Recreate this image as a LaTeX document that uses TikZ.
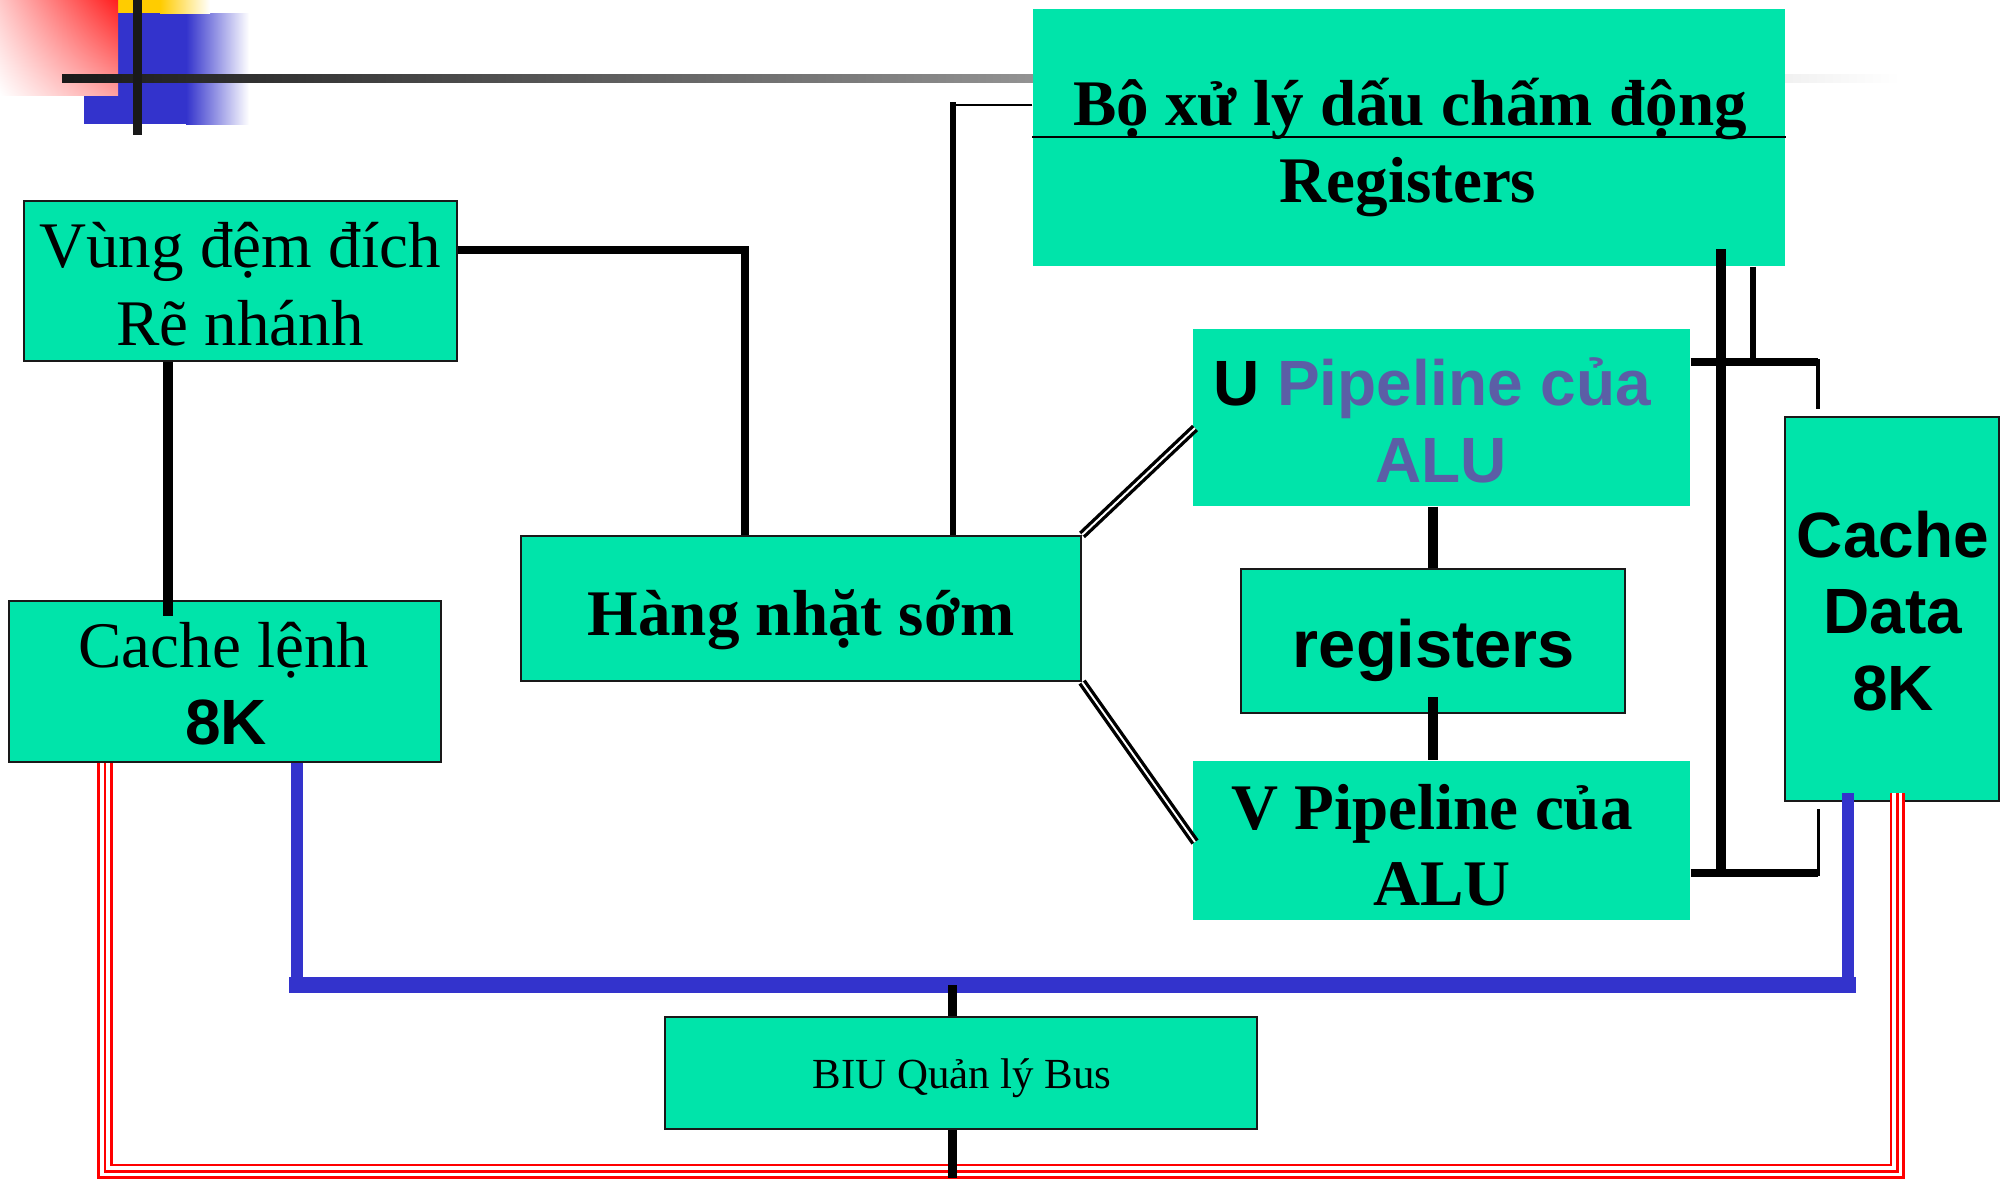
\documentclass[tikz,border=0pt]{standalone}
\usepackage{fontspec}
\setmainfont{Liberation Serif}
\newfontfamily\sansf{Liberation Sans}
\usetikzlibrary{fit,shadings}
\definecolor{boxg}{RGB}{0,228,170}
\definecolor{busblue}{RGB}{51,51,204}
\definecolor{pipe}{RGB}{91,94,166}
\definecolor{ink}{RGB}{25,25,25}
\definecolor{decored}{RGB}{255,30,30}
\definecolor{decoyel}{RGB}{255,204,0}
\definecolor{pinkA}{RGB}{255,200,200}
\definecolor{pinkB}{RGB}{255,160,160}
\definecolor{midgray}{RGB}{176,176,176}
\tikzset{
  box/.style={fill=boxg, draw=ink, line width=0.6pt, inner sep=0pt},
  plainbox/.style={fill=boxg, draw=none, inner sep=0pt},
  txt/.style={anchor=base, inner sep=0pt},
  serifL/.style={font=\fontsize{18.5}{22}\selectfont},
  serifB/.style={font=\fontsize{18.5}{22}\selectfont\bfseries},
  sansB/.style={font=\sansf\fontsize{18.2}{22}\selectfont\bfseries},
  wA/.style={draw=black, line width=2.85pt},
  wB/.style={draw=black, line width=2.3pt},
  wC/.style={draw=black, line width=1.7pt},
  wD/.style={draw=black, line width=0.7pt},
  wE/.style={draw=black, line width=3.1pt},
  wF/.style={draw=black, line width=1.4pt},
  wG/.style={draw=black, line width=0.85pt},
  wH/.style={draw=black, line width=2.56pt},
  dbl/.style={draw=black, double=white, line width=0.95pt, double distance=0.55pt},
  bluev/.style={draw=busblue, line width=3.4pt},
  blueh/.style={draw=busblue, line width=4.55pt, line cap=rect},
  redtriple/.style={draw=red, line width=4.27pt,
     postaction={draw=white, line width=2.85pt},
     postaction={draw=red, line width=0.85pt}}
}
\begin{document}
\begin{tikzpicture}[x=0.01cm,y=-0.01cm]
\useasboundingbox (0,0) rectangle (2001,1178);
% top-left decoration
\fill[busblue] (84,13) rectangle (186,124);
\shade[left color=busblue, right color=white] (186,13) rectangle (249,124);
\fill[decoyel] (118,0) rectangle (160,13);
\shade[left color=decoyel, right color=white] (160,0) rectangle (210,13);
\shade[upper left=pinkA, upper right=decored,
       lower left=white, lower right=pinkB] (0,0) rectangle (118,95);
\shade[left color=ink, middle color=midgray, right color=white] (62,74) rectangle (1900,82);
\fill[ink] (133,0) rectangle (142,135);

% boxes
\node[plainbox, fit={(1033,9) (1785,266)}] (fp) {};
\draw[black, line width=0.6pt] (fp.west |- 0,137) -- (fp.east |- 0,137);
\node[box, fit={(24,201) (457,361)}] (vung) {};
\node[box, fit={(9,601) (441,762)}] (cachel) {};
\node[box, fit={(521,536) (1081,681)}] (hang) {};
\node[plainbox, fit={(1193,329) (1690,506)}] (upipe) {};
\node[box, fit={(1241,569) (1625,713)}] (regs) {};
\node[plainbox, fit={(1193,761) (1690,920)}] (vpipe) {};
\node[box, fit={(1785,417) (1999,801)}] (cached) {};
\node[box, fit={(665,1017) (1257,1129)}] (biu) {};

% connectors
\coordinate (j1) at (168,616);
\draw[wA] (vung.south -| j1) -- (j1);
\coordinate (j2) at (745,250);
\draw[wB] (vung.east |- j2) -- (j2) -- (j2 |- hang.north);
\coordinate (j3) at (953,105);
\draw[wD] (fp.west |- j3) -- (j3);
\draw[wC] ([yshift=0.03cm]j3) -- (j3 |- hang.north);
\coordinate (j4) at (1195,428);
\coordinate (j5) at (1195,842);
\draw[dbl] (hang.north east) -- (j4);
\draw[dbl] (hang.south east) -- (j5);
\draw[wA] (upipe.south -| regs.north) -- (regs.north);
\coordinate (j6) at (1433,697);
\draw[wA] (j6) -- (j6 |- vpipe.north);
\coordinate (ut) at (1818,362);
\coordinate (utd) at (1818,409);
\coordinate (vb) at (1818,873);
\coordinate (vbu) at (1818,809);
\coordinate (fpl) at (1721,249);
\coordinate (tv) at (1753,362);
\draw[wE] (fpl) -- (fpl |- vb);
\draw[wC] (tv |- fp.south) -- (tv);
\draw[wB] (upipe.east |- ut) -- (ut);
\draw[wF] ([yshift=0.03cm]ut) -- (utd);
\draw[wB] (vpipe.east |- vb) -- (vb);
\draw[wG] ([yshift=-0.03cm]vb) -- (vbu);
% red triple bus
\coordinate (rl) at (105,1171);
\coordinate (rr) at (1897,1171);
\coordinate (rrt) at (1897,793);
\draw[redtriple] (rl |- cachel.south) -- (rl) -- (rr) -- (rrt);
% blue bus
\coordinate (bl) at (297,985);
\coordinate (br) at (1848,985);
\coordinate (brt) at (1848,793);
\draw[bluev] (bl |- cachel.south) -- (bl);
\draw[bluev] (brt) -- (br);
\draw[blueh] (bl) -- (br);
% bus to BIU
\coordinate (bb) at (952,985);
\coordinate (bot) at (952,1178);
\draw[wH] (bb) -- (bb |- biu.north);
\draw[wH] (bot |- biu.south) -- (bot);

% texts
\node[txt, serifB] (fp1) at (1410,125) {Bộ xử lý dấu chấm động};
\node[txt, serifB] (fp2) at (1408,202) {Registers};
\node[txt, serifL] (vung1) at (240,267) {Vùng đệm đích};
\node[txt, serifL] (vung2) at (240,345) {Rẽ nhánh};
\node[txt, serifL] (cl1) at (224,667) {Cache lệnh};
\node[txt, sansB] (cl2) at (226,744) {8K};
\node[txt, serifB] (hg1) at (801,635) {Hàng nhặt sớm};
\node[txt, sansB] (up1) at (1432,405) {U \textcolor{pipe}{Pipeline của}};
\node[txt, sansB, text=pipe] (up2) at (1441,482) {ALU};
\node[txt, font=\sansf\fontsize{19}{22}\selectfont\bfseries] (rg1) at (1434,667) {registers};
\node[txt, serifB] (vp1) at (1432,829) {V Pipeline của};
\node[txt, serifB] (vp2) at (1442,905) {ALU};
\node[txt, sansB] (cd1) at (1893,557) {Cache};
\node[txt, sansB] (cd2) at (1893,633) {Data};
\node[txt, sansB] (cd3) at (1893,710) {8K};
\node[txt, font=\fontsize{12.2}{14}\selectfont] (biu1) at (962,1088) {BIU Quản lý Bus};
\end{tikzpicture}
\end{document}
